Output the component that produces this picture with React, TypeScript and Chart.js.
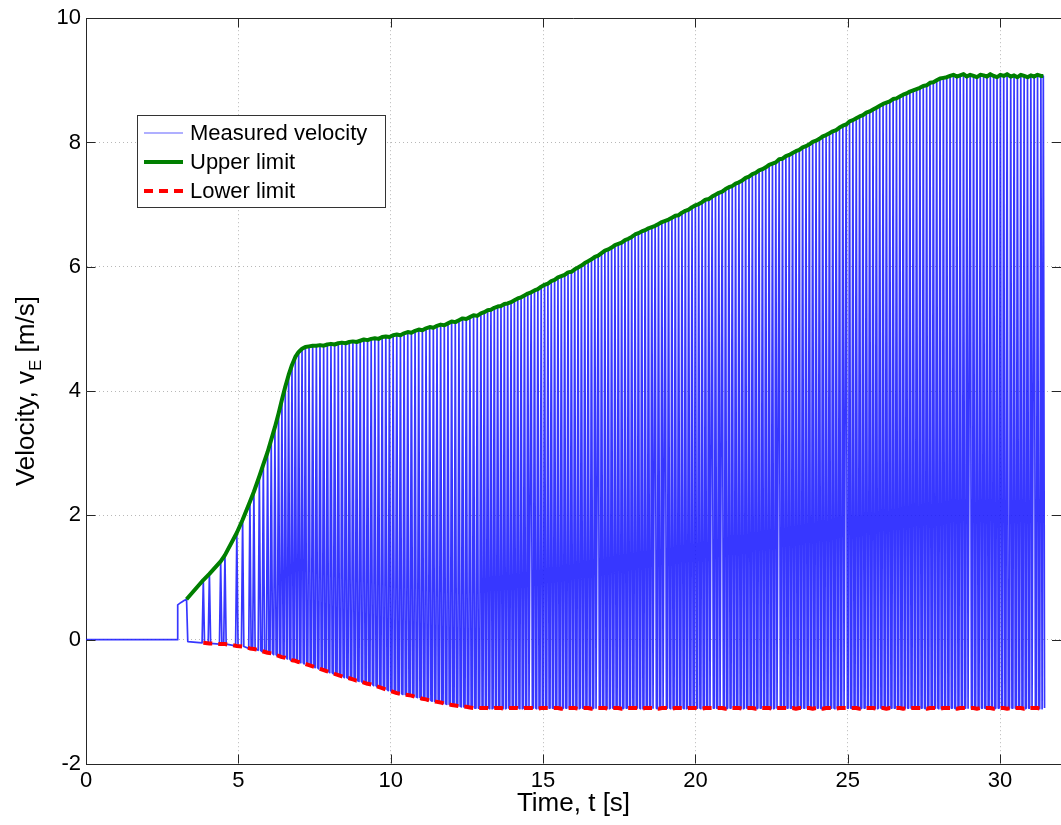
import React, { useEffect, useRef } from "react";
import { Chart, registerables } from "chart.js";

Chart.register(...registerables);

// ---- axes ----
const xTicks = [0, 5, 10, 15, 20, 25, 30];
const yTicks = [-2, 0, 2, 4, 6, 8, 10];
const xRange = [0, 32];
const yRange = [-2, 10];

// ---- series labels ----
const seriesLabels = ["Measured velocity", "Upper limit", "Lower limit"];
const xTitle = "Time, t [s]";
const yTitleMain = "Velocity, v";
const yTitleSub = "E";
const yTitleUnit = " [m/s]";

// ---- measured velocity before the first pulse (t [s], v [m/s]) ----
const leadInTime = [0, 2.99, 3.01, 3.12, 3.22];
const leadInVelocity = [0, 0, 0.56, 0.6, 0.63];

// ---- pulse instants (t [s]) ----
const pulseTime = [
  3.3, 3.85, 4.05, 4.42, 4.56, 4.95, 5.14, 5.38, 5.51, 5.69,
  5.82, 5.96, 6.08, 6.2, 6.32, 6.43, 6.54, 6.65, 6.76, 6.87,
  6.98, 7.09, 7.2, 7.32, 7.44, 7.56, 7.68, 7.8, 7.92, 8.04,
  8.16, 8.28, 8.4, 8.52, 8.64, 8.76, 8.88, 9.0, 9.12, 9.24,
  9.36, 9.48, 9.6, 9.72, 9.84, 9.96, 10.08, 10.2, 10.32, 10.44,
  10.56, 10.68, 10.8, 10.92, 11.04, 11.16, 11.28, 11.4, 11.52, 11.64,
  11.76, 11.88, 12.0, 12.12, 12.24, 12.36, 12.48, 12.6, 12.72, 12.84,
  12.96,
  13.07, 13.18, 13.29, 13.4, 13.51, 13.62, 13.73, 13.84, 13.95, 14.06,
  14.17, 14.28, 14.39, 14.5, 14.61, 14.72, 14.83, 14.94, 15.05, 15.16,
  15.27, 15.38, 15.49, 15.6, 15.71, 15.82, 15.93, 16.04, 16.15, 16.26,
  16.37, 16.48, 16.59, 16.7, 16.81, 16.92, 17.03, 17.14, 17.25, 17.36,
  17.47, 17.58, 17.69, 17.8, 17.91, 18.02, 18.13, 18.24, 18.35, 18.46,
  18.57, 18.68, 18.79, 18.9, 19.01, 19.12, 19.23, 19.34, 19.45, 19.56,
  19.67, 19.78, 19.89, 20.0, 20.11, 20.22, 20.33, 20.44, 20.55, 20.66,
  20.77, 20.88, 20.99, 21.1, 21.21, 21.32, 21.43, 21.54, 21.65, 21.76,
  21.87, 21.98, 22.09, 22.2, 22.31, 22.42, 22.53, 22.64, 22.75, 22.86,
  22.97, 23.08, 23.19, 23.3, 23.41, 23.52, 23.63, 23.74, 23.85, 23.96,
  24.07, 24.18, 24.29, 24.4, 24.51, 24.62, 24.73, 24.84, 24.95, 25.06,
  25.17, 25.28, 25.39, 25.5, 25.61, 25.72, 25.83, 25.94, 26.05, 26.16,
  26.27, 26.38, 26.49, 26.6, 26.71, 26.82, 26.93, 27.04, 27.15, 27.26,
  27.37, 27.48, 27.59, 27.7, 27.81, 27.92, 28.03, 28.14, 28.25, 28.36,
  28.47, 28.58, 28.69, 28.8, 28.91, 29.02, 29.13, 29.24, 29.35, 29.46,
  29.57, 29.68, 29.79, 29.9, 30.01, 30.12, 30.23, 30.35, 30.46, 30.57,
  30.68, 30.79, 30.9, 31.01, 31.12, 31.23, 31.34, 31.42,
];

// ---- upper limit: pulse peaks (v [m/s]) ----
const upperLimit = [
  0.65, 0.96, 1.06, 1.26, 1.36, 1.72, 1.93, 2.22, 2.38, 2.63,
  2.82, 3.02, 3.22, 3.42, 3.64, 3.86, 4.07, 4.26, 4.42, 4.55,
  4.63, 4.68, 4.71, 4.72, 4.73, 4.73, 4.74, 4.73, 4.75, 4.76,
  4.75, 4.77, 4.78, 4.77, 4.79, 4.8, 4.79, 4.81, 4.83, 4.82,
  4.84, 4.85, 4.84, 4.87, 4.88, 4.87, 4.9, 4.91, 4.9, 4.93,
  4.95, 4.94, 4.97, 4.99, 4.98, 5.01, 5.03, 5.02, 5.05, 5.07,
  5.06, 5.09, 5.12, 5.11, 5.14, 5.17, 5.16, 5.19, 5.22, 5.21,
  5.25,
  5.27, 5.3, 5.31, 5.34, 5.36, 5.37, 5.4, 5.41, 5.43, 5.46,
  5.49, 5.51, 5.54, 5.57, 5.59, 5.62, 5.64, 5.68, 5.71, 5.73,
  5.77, 5.79, 5.83, 5.85, 5.87, 5.91, 5.92, 5.96, 5.99, 6.02,
  6.06, 6.09, 6.12, 6.16, 6.18, 6.22, 6.26, 6.28, 6.31, 6.35,
  6.37, 6.39, 6.43, 6.45, 6.48, 6.52, 6.54, 6.57, 6.59, 6.62,
  6.64, 6.66, 6.69, 6.72, 6.74, 6.76, 6.79, 6.82, 6.83, 6.87,
  6.9, 6.92, 6.96, 6.99, 7.01, 7.04, 7.08, 7.09, 7.13, 7.16,
  7.19, 7.21, 7.25, 7.28, 7.3, 7.34, 7.36, 7.39, 7.43, 7.45,
  7.49, 7.51, 7.55, 7.57, 7.6, 7.64, 7.66, 7.68, 7.73, 7.74,
  7.78, 7.8, 7.83, 7.86, 7.88, 7.92, 7.94, 7.97, 8.01, 8.03,
  8.06, 8.1, 8.12, 8.15, 8.18, 8.2, 8.24, 8.27, 8.29, 8.34,
  8.36, 8.39, 8.42, 8.44, 8.48, 8.5, 8.53, 8.56, 8.59, 8.62,
  8.64, 8.66, 8.7, 8.71, 8.74, 8.77, 8.79, 8.82, 8.84, 8.86,
  8.88, 8.91, 8.92, 8.96, 8.97, 9.0, 9.03, 9.04, 9.05, 9.07,
  9.09, 9.06, 9.08, 9.1, 9.06, 9.09, 9.07, 9.05, 9.09, 9.08,
  9.06, 9.1, 9.07, 9.05, 9.09, 9.07, 9.1, 9.06, 9.08, 9.05,
  9.09, 9.07, 9.05, 9.08, 9.06, 9.09, 9.07, 9.07,
];

// ---- lower limit: troughs after each pulse (v [m/s]) ----
const lowerLimit = [
  -0.03, -0.05, -0.06, -0.07, -0.07, -0.1, -0.11, -0.14, -0.15, -0.17,
  -0.19, -0.21, -0.22, -0.24, -0.26, -0.28, -0.29, -0.31, -0.33, -0.34,
  -0.36, -0.37, -0.39, -0.41, -0.43, -0.45, -0.47, -0.49, -0.51, -0.53,
  -0.55, -0.57, -0.59, -0.61, -0.62, -0.64, -0.66, -0.67, -0.69, -0.71,
  -0.72, -0.74, -0.76, -0.78, -0.8, -0.82, -0.84, -0.86, -0.87, -0.88,
  -0.89, -0.9, -0.92, -0.93, -0.95, -0.96, -0.98, -0.99, -1.0, -1.01,
  -1.03, -1.04, -1.05, -1.06, -1.07, -1.08, -1.08, -1.09, -1.1, -1.1,
  -1.1,
  -1.1, -1.1, -1.11, -1.1, -1.1, -1.1, -1.11, -1.1, -1.1, -1.1,
  -1.1, -1.11, -1.1, -1.1, -1.1, -1.1, -1.11, -1.1, -1.1, -1.1,
  -1.1, -1.1, -1.1, -1.11, -1.1, -1.1, -1.1, -1.1, -1.11, -1.1,
  -1.1, -1.1, -1.11, -1.1, -1.1, -1.1, -1.1, -1.11, -1.1, -1.1,
  -1.1, -1.11, -1.1, -1.1, -1.1, -1.1, -1.1, -1.11, -1.1, -1.1,
  -1.1, -1.1, -1.11, -1.1, -1.1, -1.1, -1.11, -1.1, -1.1, -1.1,
  -1.11, -1.1, -1.1, -1.1, -1.1, -1.11, -1.1, -1.1, -1.1, -1.1,
  -1.1, -1.1, -1.11, -1.1, -1.1, -1.1, -1.1, -1.11, -1.1, -1.1,
  -1.1, -1.11, -1.1, -1.1, -1.1, -1.1, -1.11, -1.1, -1.1, -1.1,
  -1.1, -1.1, -1.1, -1.11, -1.1, -1.1, -1.1, -1.1, -1.11, -1.1,
  -1.1, -1.11, -1.1, -1.1, -1.1, -1.11, -1.1, -1.1, -1.1, -1.1,
  -1.1, -1.1, -1.11, -1.1, -1.1, -1.1, -1.1, -1.11, -1.1, -1.1,
  -1.11, -1.1, -1.1, -1.1, -1.1, -1.11, -1.1, -1.1, -1.1, -1.1,
  -1.1, -1.1, -1.11, -1.1, -1.1, -1.1, -1.11, -1.1, -1.1, -1.1,
  -1.1, -1.11, -1.1, -1.1, -1.1, -1.1, -1.1, -1.11, -1.1, -1.1,
  -1.1, -1.1, -1.11, -1.1, -1.1, -1.1, -1.11, -1.1, -1.1, -1.1,
  -1.1, -1.11, -1.1, -1.1, -1.1, -1.1, -1.11, -1.1,
];

// half duration of a single velocity pulse [s]
const pulseHalfWidth = 0.04;

const FONT = "'Liberation Sans', Arial, Helvetica, sans-serif";

function buildMeasured() {
  const pts: { x: number; y: number }[] = leadInTime.map((t, i) => ({ x: t, y: leadInVelocity[i] }));
  pulseTime.forEach((t, i) => {
    if (i > 0) pts.push({ x: t - pulseHalfWidth, y: lowerLimit[i] });
    pts.push({ x: t, y: upperLimit[i] });
    pts.push({ x: t + pulseHalfWidth, y: lowerLimit[i] });
  });
  return pts;
}

const framePlugin = {
  id: "matlabFrame",
  afterDraw(chart: any) {
    const { ctx, chartArea: a, scales } = chart;
    const xs = scales.x;
    const ys = scales.y;
    const tickLen = 9;
    ctx.save();
    // box + inward ticks
    ctx.strokeStyle = "#262626";
    ctx.lineWidth = 1;
    const L = Math.round(a.left) + 0.5;
    const R = Math.round(a.right);
    const T = Math.round(a.top) + 0.5;
    const B = Math.round(a.bottom) - 0.5;
    ctx.beginPath();
    ctx.moveTo(L, T);
    ctx.lineTo(R, T);
    xTicks.forEach((v) => {
      const px = Math.round(xs.getPixelForValue(v)) + 0.5;
      ctx.moveTo(px, B);
      ctx.lineTo(px, B - tickLen);
      ctx.moveTo(px, T);
      ctx.lineTo(px, T + tickLen);
    });
    yTicks.forEach((v) => {
      const py = Math.round(ys.getPixelForValue(v)) + 0.5;
      ctx.moveTo(L, py);
      ctx.lineTo(L + tickLen, py);
      ctx.moveTo(R, py);
      ctx.lineTo(R - tickLen, py);
    });
    ctx.stroke();

    // y axis title with subscript
    const mainFont = `26px ${FONT}`;
    const subFont = `17px ${FONT}`;
    ctx.font = mainFont;
    const w1 = ctx.measureText(yTitleMain).width;
    const w3 = ctx.measureText(yTitleUnit).width;
    ctx.font = subFont;
    const w2 = ctx.measureText(yTitleSub).width;
    const total = w1 + w2 + w3;
    const cy = (a.top + a.bottom) / 2;
    ctx.translate(25, cy);
    ctx.rotate(-Math.PI / 2);
    ctx.fillStyle = "#000";
    ctx.textBaseline = "alphabetic";
    ctx.textAlign = "left";
    let x0 = -total / 2;
    const base = 9;
    ctx.font = mainFont;
    ctx.fillText(yTitleMain, x0, base);
    x0 += w1;
    ctx.font = subFont;
    ctx.fillText(yTitleSub, x0, base + 7);
    x0 += w2;
    ctx.font = mainFont;
    ctx.fillText(yTitleUnit, x0, base);
    ctx.restore();

    // legend
    ctx.save();
    const bx = 137.5, by = 115.5, bw = 248, bh = 92;
    ctx.fillStyle = "#ffffff";
    ctx.fillRect(bx, by, bw, bh);
    ctx.strokeStyle = "#333333";
    ctx.lineWidth = 1;
    ctx.strokeRect(bx, by, bw, bh);
    const rows = [133, 162, 191];
    ctx.font = `22px ${FONT}`;
    ctx.textBaseline = "middle";
    ctx.textAlign = "left";
    chart.data.datasets.forEach((ds: any, i: number) => {
      const y = rows[i];
      ctx.save();
      ctx.strokeStyle = ds.legendColor || ds.borderColor;
      ctx.lineWidth = ds.legendWidth || ds.borderWidth;
      ctx.setLineDash(ds.borderDash || []);
      ctx.beginPath();
      ctx.moveTo(144, y);
      ctx.lineTo(183, y);
      ctx.stroke();
      ctx.restore();
      ctx.fillStyle = "#000";
      ctx.fillText(ds.label, 190, y + 1);
    });
    ctx.restore();
  },
};

export default function App() {
  const ref = useRef<HTMLCanvasElement | null>(null);
  useEffect(() => {
    if (!ref.current) return;
    const measured = buildMeasured();
    const upper = pulseTime.map((t, i) => ({ x: t, y: upperLimit[i] }));
    const lower = pulseTime.slice(1).map((t, i) => ({ x: t, y: lowerLimit[i + 1] }));
    const chart = new Chart(ref.current, {
      type: "line",
      data: {
        datasets: [
          {
            label: seriesLabels[0],
            data: measured,
            borderColor: "rgba(20,20,255,0.85)",
            legendColor: "#6060ff",
            legendWidth: 1.2,
            borderWidth: 1.7,
            pointRadius: 0,
            order: 3,
          } as any,
          {
            label: seriesLabels[1],
            data: upper,
            borderColor: "#007f00",
            borderWidth: 4,
            pointRadius: 0,
            order: 2,
          },
          {
            label: seriesLabels[2],
            data: lower,
            borderColor: "#ff0000",
            borderWidth: 4,
            borderDash: [9, 6],
            pointRadius: 0,
            order: 1,
          },
        ],
      },
      options: {
        responsive: false,
        animation: false,
        devicePixelRatio: 1,
        events: [],
        layout: { padding: { top: 15, right: 0, left: 0, bottom: 0 } },
        elements: { line: { tension: 0, borderJoinStyle: "round", borderCapStyle: "butt" } },
        plugins: { legend: { display: false }, tooltip: { enabled: false } },
        scales: {
          x: {
            type: "linear",
            min: xRange[0],
            max: xRange[1],
            afterBuildTicks: (s: any) => {
              s.ticks = xTicks.map((v) => ({ value: v }));
            },
            afterFit: (s: any) => {
              s.height = 61;
            },
            grid: { color: "#b8b8b8", lineWidth: 1, drawTicks: false },
            border: { display: true, color: "#262626", width: 1, dash: [1, 3] },
            ticks: {
              font: { family: FONT, size: 22 },
              color: "#000",
              padding: 4,
              maxRotation: 0,
              autoSkip: false,
            },
            title: {
              display: true,
              text: xTitle,
              color: "#000",
              font: { family: FONT, size: 26 },
              padding: { top: 0, bottom: 6 },
            },
          },
          y: {
            type: "linear",
            min: yRange[0],
            max: yRange[1],
            afterBuildTicks: (s: any) => {
              s.ticks = yTicks.map((v) => ({ value: v }));
            },
            afterFit: (s: any) => {
              s.width = 86;
            },
            grid: { color: "#b8b8b8", lineWidth: 1, drawTicks: false },
            border: { display: true, color: "#262626", width: 1, dash: [1, 3] },
            ticks: {
              font: { family: FONT, size: 22 },
              color: "#000",
              padding: 5,
              autoSkip: false,
            },
          },
        },
      } as any,
      plugins: [framePlugin],
    });
    return () => chart.destroy();
  }, []);

  return (
    <div style={{ position: "absolute", left: 0, top: 0, width: 1061, height: 825, background: "#fff" }}>
      <canvas ref={ref} width={1061} height={825} style={{ display: "block" }} />
    </div>
  );
}
